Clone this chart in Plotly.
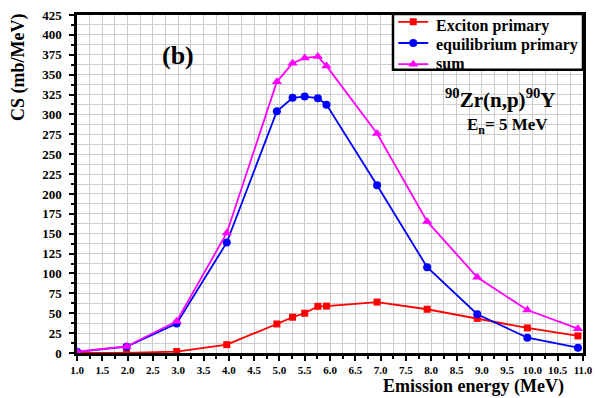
import plotly.graph_objects as go

x_energy = [1.0, 1.98, 2.97, 3.96, 4.95, 5.26, 5.5, 5.76, 5.93, 6.93, 7.92, 8.91, 9.9, 10.9]
exciton = [0.0, 0.0, 1.8, 10.5, 36.5, 45.0, 50.0, 58.7, 59.0, 64.0, 55.0, 43.5, 31.5, 21.5]
equilibrium = [1.5, 8.0, 37.0, 139.0, 304.0, 320.8, 322.4, 320.4, 312.3, 211.0, 107.8, 48.7, 19.3, 6.7]
total = [1.6, 8.2, 40.0, 151.0, 341.0, 364.4, 371.0, 372.7, 361.0, 276.0, 165.5, 95.2, 54.0, 30.6]
series_names = ["Exciton primary", "equilibrium primary", "sum"]
series_colors = ["#ff0000", "#0000ff", "#ff00ff"]

x_ticks = [1.0, 1.5, 2.0, 2.5, 3.0, 3.5, 4.0, 4.5, 5.0, 5.5, 6.0, 6.5, 7.0, 7.5, 8.0, 8.5, 9.0, 9.5, 10.0, 10.5, 11.0]
x_tick_labels = [f"{v:.1f}" for v in x_ticks]
y_ticks = list(range(0, 426, 25))

serif = "Liberation Serif"

fig = go.Figure()
fig.add_trace(go.Scatter(x=x_energy, y=exciton, mode="lines+markers", name=" ",
                         line=dict(color=series_colors[0], width=1.8),
                         marker=dict(symbol="square", size=7, color=series_colors[0]),
                         hovertext=series_names[0]))
fig.add_trace(go.Scatter(x=x_energy, y=equilibrium, mode="lines+markers", name="  ",
                         line=dict(color=series_colors[1], width=1.8),
                         marker=dict(symbol="circle", size=8, color=series_colors[1]),
                         hovertext=series_names[1]))
fig.add_trace(go.Scatter(x=x_energy, y=total, mode="lines+markers", name="   ",
                         line=dict(color=series_colors[2], width=1.8),
                         marker=dict(symbol="triangle-up", size=9, color=series_colors[2]),
                         hovertext=series_names[2]))

fig.update_layout(
    width=596, height=398,
    margin=dict(l=77, r=13, t=15, b=45, autoexpand=False),
    plot_bgcolor="white", paper_bgcolor="white",
    font=dict(family=serif, color="black"),
    showlegend=True,
    legend=dict(x=0.625, y=1.026, xanchor="left", yanchor="top",
                borderwidth=0, bgcolor="rgba(0,0,0,0)",
                font=dict(family=serif, size=14, color="black"),
                tracegroupgap=0, itemwidth=30),
    xaxis=dict(range=[1.0, 11.0], tickmode="array", tickvals=x_ticks, ticktext=x_tick_labels,
               showline=True, linecolor="black", linewidth=2.5, mirror=True,
               ticks="outside", ticklen=5, tickwidth=2, tickcolor="black",
               tickfont=dict(family=serif, size=11, weight="bold"),
               showgrid=True, gridcolor="#cccccc", gridwidth=1, zeroline=False,
               minor=dict(dtick=0.25, tick0=1.0, showgrid=True, gridcolor="#cccccc", gridwidth=1,
                          ticks="outside", ticklen=3, tickwidth=1.5, tickcolor="black")),
    yaxis=dict(range=[0, 425], tickmode="array", tickvals=y_ticks,
               showline=True, linecolor="black", linewidth=2.5, mirror=True,
               ticks="outside", ticklen=5, tickwidth=2, tickcolor="black",
               ticklabelstandoff=5,
               tickfont=dict(family=serif, size=13, weight="bold"),
               showgrid=True, gridcolor="#cccccc", gridwidth=1, zeroline=False,
               minor=dict(dtick=12.5, tick0=0, showgrid=True, gridcolor="#cccccc", gridwidth=1,
                          ticks="outside", ticklen=3, tickwidth=1.5, tickcolor="black")),
)

# legend frame
fig.add_shape(type="rect", xref="paper", yref="paper", x0=0.6245, x1=1.0, y0=0.838, y1=1.003,
              line=dict(color="black", width=2.5), fillcolor="white", layer="above")

# legend labels
legend_label_y = [0.968, 0.910, 0.856]
for name, ly in zip(series_names, legend_label_y):
    fig.add_annotation(text=f"<b>{name}</b>", xref="paper", yref="paper", x=0.706, y=ly,
                       xanchor="left", yanchor="middle", showarrow=False,
                       font=dict(family=serif, size=16, color="black"))

fig.add_annotation(text="<b>CS (mb/MeV)</b>", xref="paper", yref="paper", x=-0.117, y=1.01,
                   xanchor="center", yanchor="top", textangle=-90, showarrow=False,
                   font=dict(family=serif, size=18))
fig.add_annotation(text="<b>Emission energy (MeV)</b>", xref="paper", yref="paper", x=0.783, y=-0.099,
                   xanchor="center", yanchor="middle", showarrow=False,
                   font=dict(family=serif, size=18))
fig.add_annotation(text="<b>(b)</b>", xref="x", yref="y", x=3.0, y=374,
                   showarrow=False, font=dict(family=serif, size=26))
fig.add_annotation(text="<b><sup>90</sup>Zr(n,p)<sup>90</sup>Y</b>", xref="x", yref="y", x=9.35, y=320,
                   showarrow=False, font=dict(family=serif, size=21))
fig.add_annotation(text="<b>E<sub>n</sub>= 5 MeV</b>", xref="x", yref="y", x=9.5, y=285,
                   showarrow=False, font=dict(family=serif, size=17))

fig.write_html("out.html")
